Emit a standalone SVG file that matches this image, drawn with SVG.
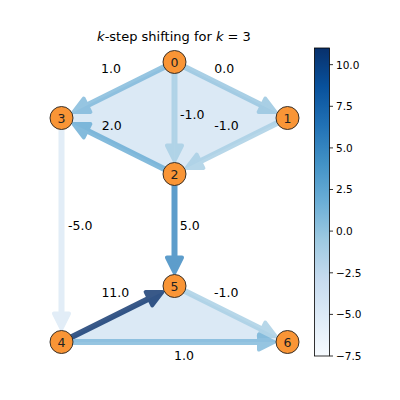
<svg xmlns="http://www.w3.org/2000/svg" width="400" height="400" viewBox="0 0 400 400">
<style>
  .lbl{font-family:"DejaVu Sans",sans-serif;font-size:12.5px;fill:#000;text-anchor:middle}
  .nlbl{font-family:"DejaVu Sans",sans-serif;font-size:12.5px;fill:#222;text-anchor:middle}
  .tick{font-family:"DejaVu Sans",sans-serif;font-size:10.5px;fill:#000}
  .title{font-family:"DejaVu Sans",sans-serif;font-size:13px;fill:#000;text-anchor:middle}
  .node circle{fill:#f99536;stroke:#222;stroke-width:0.9}
  .edge{stroke-width:6;fill:none;opacity:0.8}
  .tri{fill:#dbe9f5;stroke:none}
  marker path{stroke-width:4;stroke-linejoin:round}
</style>
<defs>
  <linearGradient id="blues" x1="0" y1="0" x2="0" y2="1">
    <stop offset="0" stop-color="#08306b"/>
    <stop offset="0.125" stop-color="#08519c"/>
    <stop offset="0.25" stop-color="#2171b5"/>
    <stop offset="0.375" stop-color="#4292c6"/>
    <stop offset="0.5" stop-color="#6baed6"/>
    <stop offset="0.625" stop-color="#9ecae1"/>
    <stop offset="0.75" stop-color="#c6dbef"/>
    <stop offset="0.875" stop-color="#deebf7"/>
    <stop offset="1" stop-color="#f7fbff"/>
  </linearGradient>
  <marker id="a_p1" viewBox="-3 -12 22 24" refX="0" refY="0" markerWidth="22" markerHeight="24" markerUnits="userSpaceOnUse" orient="auto"><path d="M0,-7.5 L15,0 L0,7.5 Z" fill="#7cb7da" stroke="#7cb7da"/></marker>
  <marker id="a_0" viewBox="-3 -12 22 24" refX="0" refY="0" markerWidth="22" markerHeight="24" markerUnits="userSpaceOnUse" orient="auto"><path d="M0,-7.5 L15,0 L0,7.5 Z" fill="#94c4df" stroke="#94c4df"/></marker>
  <marker id="a_m1" viewBox="-3 -12 22 24" refX="0" refY="0" markerWidth="22" markerHeight="24" markerUnits="userSpaceOnUse" orient="auto"><path d="M0,-7.5 L15,0 L0,7.5 Z" fill="#a6cee4" stroke="#a6cee4"/></marker>
  <marker id="a_p2" viewBox="-3 -12 22 24" refX="0" refY="0" markerWidth="22" markerHeight="24" markerUnits="userSpaceOnUse" orient="auto"><path d="M0,-7.5 L15,0 L0,7.5 Z" fill="#66abd4" stroke="#66abd4"/></marker>
  <marker id="a_m5" viewBox="-3 -12 22 24" refX="0" refY="0" markerWidth="22" markerHeight="24" markerUnits="userSpaceOnUse" orient="auto"><path d="M0,-7.5 L15,0 L0,7.5 Z" fill="#dbe9f6" stroke="#dbe9f6"/></marker>
  <marker id="a_p5" viewBox="-3 -12 22 24" refX="0" refY="0" markerWidth="22" markerHeight="24" markerUnits="userSpaceOnUse" orient="auto"><path d="M0,-7.5 L15,0 L0,7.5 Z" fill="#3585bf" stroke="#3585bf"/></marker>
  <marker id="a_p11" viewBox="-3 -12 22 24" refX="0" refY="0" markerWidth="22" markerHeight="24" markerUnits="userSpaceOnUse" orient="auto"><path d="M0,-7.5 L15,0 L0,7.5 Z" fill="#08306b" stroke="#08306b"/></marker>
</defs>
<rect width="400" height="400" fill="#fff"/>
<text class="title" x="174" y="41"><tspan font-style="italic">k</tspan>-step shifting for <tspan font-style="italic">k</tspan> = 3</text>
<g id="faces">
  <polygon class="tri" points="174.5,62 61.5,118 174.5,174"/>
  <polygon class="tri" points="174.5,62 287.5,118 174.5,174"/>
  <polygon class="tri" points="61.5,342 174.5,286 287.5,342"/>
</g>
<g id="connectors">
  <g class="edge"><line x1="165.5" y1="66.4" x2="87.04" y2="105.34" stroke="#7cb7da" marker-end="url(#a_p1)"/></g>
  <g class="edge"><line x1="183.5" y1="66.4" x2="261.96" y2="105.34" stroke="#94c4df" marker-end="url(#a_0)"/></g>
  <g class="edge"><line x1="174.5" y1="72" x2="174.5" y2="145.5" stroke="#a6cee4" marker-end="url(#a_m1)"/></g>
  <g class="edge"><line x1="278.5" y1="122.4" x2="200.04" y2="161.34" stroke="#a6cee4" marker-end="url(#a_m1)"/></g>
  <g class="edge"><line x1="165.5" y1="169.6" x2="87.04" y2="130.66" stroke="#66abd4" marker-end="url(#a_p2)"/></g>
  <g class="edge"><line x1="61.5" y1="128" x2="61.5" y2="313.5" stroke="#dbe9f6" marker-end="url(#a_m5)"/></g>
  <g class="edge"><line x1="174.5" y1="184" x2="174.5" y2="257.5" stroke="#3585bf" marker-end="url(#a_p5)"/></g>
  <g class="edge"><line x1="70.5" y1="337.6" x2="148.96" y2="298.66" stroke="#08306b" marker-end="url(#a_p11)"/></g>
  <g class="edge"><line x1="183.5" y1="290.4" x2="261.96" y2="329.34" stroke="#a6cee4" marker-end="url(#a_m1)"/></g>
  <g class="edge"><line x1="71.5" y1="342" x2="259" y2="342" stroke="#7cb7da" marker-end="url(#a_p1)"/></g>
</g>
<g id="edge-labels">
  <text class="lbl" x="111" y="73.3">1.0</text>
  <text class="lbl" x="224.2" y="73.3">0.0</text>
  <text class="lbl" x="192.2" y="118.6">-1.0</text>
  <text class="lbl" x="226.5" y="129.6">-1.0</text>
  <text class="lbl" x="111.7" y="129.6">2.0</text>
  <text class="lbl" x="80.3" y="230.3">-5.0</text>
  <text class="lbl" x="189.7" y="230.3">5.0</text>
  <text class="lbl" x="115.3" y="297.3">11.0</text>
  <text class="lbl" x="226.3" y="297.3">-1.0</text>
  <text class="lbl" x="184" y="359.6">1.0</text>
</g>
<g id="node0" class="node"><circle cx="174.5" cy="62" r="11.5"/><text class="nlbl" x="174.5" y="66.6">0</text></g>
<g id="node1" class="node"><circle cx="287.5" cy="118" r="11.5"/><text class="nlbl" x="287.5" y="122.6">1</text></g>
<g id="node2" class="node"><circle cx="174.5" cy="174" r="11.5"/><text class="nlbl" x="174.5" y="178.6">2</text></g>
<g id="node3" class="node"><circle cx="61.5" cy="118" r="11.5"/><text class="nlbl" x="61.5" y="122.6">3</text></g>
<g id="node4" class="node"><circle cx="61.5" cy="342" r="11.5"/><text class="nlbl" x="61.5" y="346.6">4</text></g>
<g id="node5" class="node"><circle cx="174.5" cy="286" r="11.5"/><text class="nlbl" x="174.5" y="290.6">5</text></g>
<g id="node6" class="node"><circle cx="287.5" cy="342" r="11.5"/><text class="nlbl" x="287.5" y="346.6">6</text></g>
<g id="colorbar">
  <rect x="314.5" y="48" width="15" height="308" fill="url(#blues)" stroke="#000" stroke-width="0.8"/>
  <g stroke="#000" stroke-width="0.8">
    <line x1="329.5" y1="64.65" x2="333" y2="64.65"/>
    <line x1="329.5" y1="106.3" x2="333" y2="106.3"/>
    <line x1="329.5" y1="147.9" x2="333" y2="147.9"/>
    <line x1="329.5" y1="189.5" x2="333" y2="189.5"/>
    <line x1="329.5" y1="231.1" x2="333" y2="231.1"/>
    <line x1="329.5" y1="272.8" x2="333" y2="272.8"/>
    <line x1="329.5" y1="314.4" x2="333" y2="314.4"/>
    <line x1="329.5" y1="356" x2="333" y2="356"/>
  </g>
  <text class="tick" x="336" y="68.5">10.0</text>
  <text class="tick" x="336" y="110.1">7.5</text>
  <text class="tick" x="336" y="151.7">5.0</text>
  <text class="tick" x="336" y="193.3">2.5</text>
  <text class="tick" x="336" y="234.9">0.0</text>
  <text class="tick" x="336" y="276.6">−2.5</text>
  <text class="tick" x="336" y="318.2">−5.0</text>
  <text class="tick" x="336" y="359.8">−7.5</text>
</g>
</svg>
